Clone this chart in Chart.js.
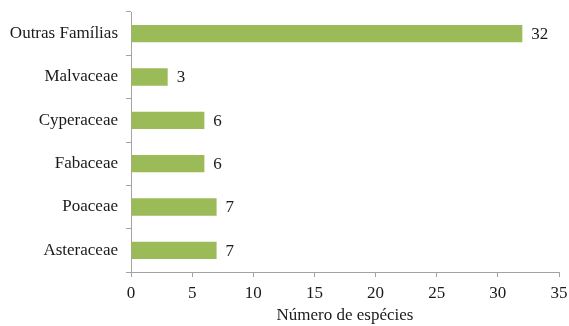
<!DOCTYPE html>
<html>
<head>
<meta charset="utf-8">
<script src="https://cdn.jsdelivr.net/npm/chart.js@4"></script>
<style>
  html, body { margin: 0; padding: 0; background: #fff; }
</style>
</head>
<body>
<canvas id="chart" width="569" height="326"></canvas>
<script>
// familias e numero de especies
const familias = ['Outras Famílias', 'Malvaceae', 'Cyperaceae', 'Fabaceae', 'Poaceae', 'Asteraceae'];
const especies = [32, 3, 6, 6, 7, 7];
const eixoX = { min: 0, max: 35, passo: 5 };

const fonte = { family: "'Liberation Serif', 'Times New Roman', serif", size: 17 };
const corTexto = '#1a1a1a';
const corEixo = '#a3a3a3';

// escreve o valor ao lado de cada barra
const rotulosValor = {
  id: 'rotulosValor',
  afterDatasetsDraw(chart) {
    const ctx = chart.ctx;
    const meta = chart.getDatasetMeta(0);
    ctx.save();
    ctx.font = fonte.size + 'px ' + fonte.family;
    ctx.fillStyle = corTexto;
    ctx.textAlign = 'left';
    ctx.textBaseline = 'middle';
    meta.data.forEach((bar, i) => {
      ctx.fillText(String(especies[i]), bar.x + 9, bar.y + 1);
    });
    ctx.restore();
  }
};

new Chart(document.getElementById('chart'), {
  type: 'bar',
  data: {
    labels: familias,
    datasets: [{
      data: especies,
      backgroundColor: '#9BBB59',
      borderWidth: 0,
      categoryPercentage: 1,
      barPercentage: 0.4
    }]
  },
  options: {
    indexAxis: 'y',
    responsive: false,
    animation: false,
    layout: { padding: { top: 12, right: 10, left: 0, bottom: 0 } },
    plugins: {
      legend: { display: false },
      tooltip: { enabled: false }
    },
    scales: {
      x: {
        min: eixoX.min,
        max: eixoX.max,
        border: { color: corEixo, width: 1 },
        grid: { drawOnChartArea: false, color: corEixo, tickLength: 5 },
        ticks: { stepSize: eixoX.passo, color: corTexto, font: fonte, padding: 6 },
        title: { display: true, text: 'Número de espécies', color: corTexto, font: fonte, padding: { top: 2, bottom: 0 } },
        afterFit(scale) {
          scale.height = 54;
          scale.paddingLeft = 0;
          scale.paddingRight = 0;
        }
      },
      y: {
        border: { color: corEixo, width: 1 },
        grid: { drawOnChartArea: false, color: corEixo, tickLength: 5, offset: true },
        ticks: { color: corTexto, font: fonte, padding: 8, autoSkip: false },
        afterFit(scale) {
          scale.width = 131;
          scale.paddingTop = 0;
          scale.paddingBottom = 0;
        }
      }
    }
  },
  plugins: [rotulosValor]
});
</script>
</body>
</html>
